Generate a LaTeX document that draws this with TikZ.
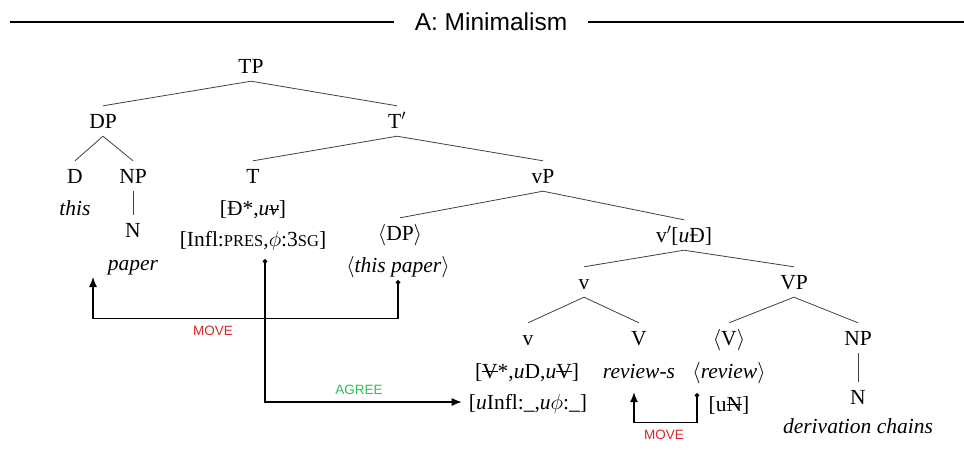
\RequirePackage{fix-cm}
\documentclass[tikz,border=0pt]{standalone}
\usepackage{fontspec}
\setmainfont{Liberation Serif}
\setsansfont{Liberation Sans}
\usetikzlibrary{arrows.meta,calc}
\definecolor{mvred}{RGB}{214,40,40}
\definecolor{aggreen}{RGB}{45,190,90}
\newcommand\strk[2][0.3em]{\setbox0\hbox{#2}\rlap{\rule[#1]{\wd0}{0.8pt}}\box0}
\newcommand\fsc[1]{{\fontsize{16.5}{16.5}\selectfont #1}}
\newcommand\angl[1]{$\langle$#1$\rangle$}
\begin{document}
\begin{tikzpicture}[x=1pt,y=-1pt,
  lbl/.style={anchor=base, font=\fontsize{21.5}{24}\selectfont, text height=17pt, text depth=3pt, inner ysep=5pt, inner xsep=7pt},
  edge/.style={draw=black!75, line width=0.8pt},
  conn/.style={line width=1.2pt, {Circle[length=4.5pt]}-{Latex[length=10pt,width=8pt]}},
  lab/.style={font=\sffamily\fontsize{13.5}{14}\selectfont}]
\useasboundingbox (0,0) rectangle (964,451);
% title
\node[font=\sffamily\fontsize{24.5}{26}\selectfont, inner xsep=21pt] (title) at (491,22) {A: Minimalism};
\coordinate (tl) at (10,22);
\coordinate (tr) at (964,22);
\draw[line width=1.5pt] (tl) -- (title.west);
\draw[line width=1.5pt] (title.east) -- (tr);
% tree nodes
\node[lbl] (tp) at (251,73) {TP};
\node[lbl] (dp) at (103,128) {DP};
\node[lbl] (tbar) at (397,128) {T$'$};
\node[lbl] (d) at (75,183) {D};
\node[lbl] (np1) at (133,183) {NP};
\node[lbl] (t) at (253,183) {T};
\node[lbl] (vp) at (543,183) {vP};
\node[lbl] (this) at (75,215) {\textit{this}};
\node[lbl] (n1) at (133,237) {N};
\node[lbl] (tf1) at (253,215) {[Đ*,\textit{u}\strk[0.22em]{\textit{v}}]};
\node[lbl] (tf2) at (253,246) {[Infl:\fsc{PRES},$\phi$:3\fsc{SG}]};
\node[lbl] (paper) at (133,270) {\textit{paper}};
\node[lbl] (dpt) at (400,240) {\angl{DP}};
\node[lbl] (vbar) at (684,242) {v$'$[\textit{u}Đ]};
\node[lbl] (thispaper) at (398,272) {\angl{\textit{this paper}}};
\node[lbl] (vs) at (584,289) {v};
\node[lbl] (vpb) at (794,289) {VP};
\node[lbl] (v2) at (528,345) {v};
\node[lbl] (vbig) at (639,345) {V};
\node[lbl] (vt) at (729,345) {\angl{V}};
\node[lbl] (np2) at (858,345) {NP};
\node[lbl] (vf1) at (527,378) {[\strk{V}*,\textit{u}D,\textit{u}\strk{V}]};
\node[lbl] (revs) at (639,378) {\textit{review-s}};
\node[lbl] (rev) at (729,378) {\angl{\textit{review}}};
\node[lbl] (vf2) at (528,409) {[\textit{u}Infl:\_,\textit{u}$\phi$:\_]};
\node[lbl] (un) at (729,411) {[u\strk{N}]};
\node[lbl] (n2) at (858,404) {N};
\node[lbl] (dc) at (858,433) {\textit{derivation chains}};
% tree edges
\draw[edge] (tp.south) -- (dp.north);
\draw[edge] (tp.south) -- (tbar.north);
\draw[edge] (dp.south) -- (d.north);
\draw[edge] (dp.south) -- (np1.north);
\draw[edge] (np1.south) -- (n1.north);
\draw[edge] (tbar.south) -- (t.north);
\draw[edge] (tbar.south) -- (vp.north);
\draw[edge] (vp.south) -- (dpt.north);
\draw[edge] (vp.south) -- (vbar.north);
\draw[edge] (vbar.south) -- (vs.north);
\draw[edge] (vbar.south) -- (vpb.north);
\draw[edge] (vs.south) -- (v2.north);
\draw[edge] (vs.south) -- (vbig.north);
\draw[edge] (vpb.south) -- (vt.north);
\draw[edge] (vpb.south) -- (np2.north);
\draw[edge] (np2.south) -- (n2.north);
% connectors
\coordinate (m1e) at (93,277);
\draw[conn] (thispaper.south) -- ++(0,38) -| (m1e);
\node[lab, text=mvred] (mv1) at (213,331) {MOVE};
\draw[conn] ($(tf2.south)+(12,5)$) |- (vf2.west);
\node[lab, text=aggreen] (ag) at (359,390) {AGREE};
\draw[conn] ($(rev.south)+(-32,7)$) -- ++(0,29) -| ($(revs.south)+(-5,6)$);
\node[lab, text=mvred] (mv2) at (664,435) {MOVE};
\end{tikzpicture}
\end{document}
